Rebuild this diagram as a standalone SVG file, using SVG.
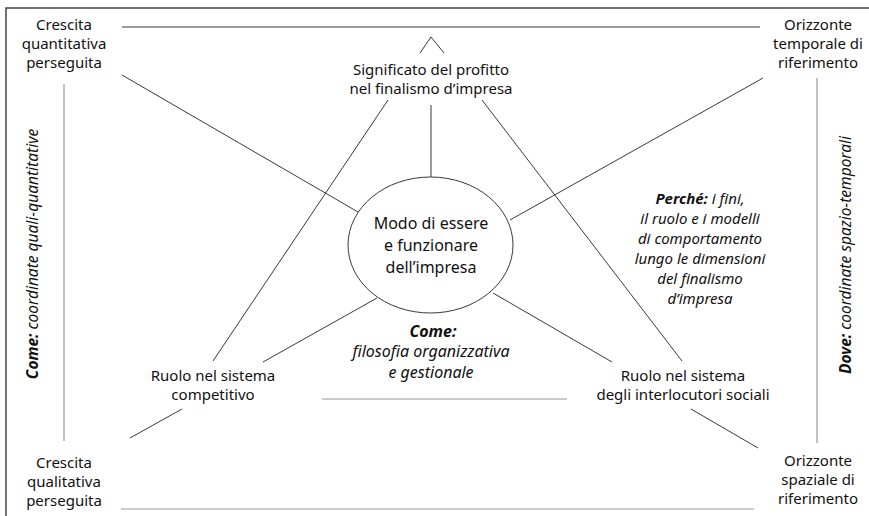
<svg xmlns="http://www.w3.org/2000/svg" width="869" height="516" viewBox="0 0 869 516">
<style>
text{font-family:"Noto Sans","Liberation Sans",sans-serif;font-size:15px;fill:#111;text-anchor:middle}
.it{font-style:italic}
.b{font-weight:bold;font-style:italic}
.big{font-size:16px}
.side{font-size:15.5px}
.ln{stroke:#222;stroke-width:0.9;fill:none}
.gr{stroke:#999;stroke-width:1.2;fill:none}
.lg{stroke:#bbb;stroke-width:1.6;fill:none}
.frame{stroke:#444;stroke-width:1.5;fill:none}
</style>
<rect width="869" height="516" fill="#fff"/>
<path class="frame" d="M6,516 V8 H869"/>

<g id="connectors">
  <line class="ln" x1="122" y1="27" x2="760" y2="27"/>
  <polyline class="ln" points="420,53 431,37 444,53"/>
  <line class="ln" x1="431" y1="105" x2="431" y2="177"/>
  <line class="ln" x1="388" y1="100" x2="213" y2="361"/>
  <line class="ln" x1="482" y1="100" x2="682" y2="361"/>
  <line class="ln" x1="122" y1="75" x2="358" y2="212"/>
  <line class="ln" x1="763" y1="78" x2="510" y2="220"/>
  <line class="ln" x1="377" y1="298" x2="263" y2="362"/>
  <line class="ln" x1="493" y1="293" x2="612" y2="362"/>
  <line class="ln" x1="182" y1="409" x2="130" y2="438"/>
  <line class="ln" x1="691" y1="409" x2="758" y2="448"/>
  <line class="gr" x1="64" y1="84" x2="64" y2="441"/>
  <line class="gr" x1="817" y1="78" x2="817" y2="443"/>
  <line class="gr" x1="121" y1="509" x2="754" y2="509"/>
  <line class="lg" x1="322" y1="399" x2="567" y2="399"/>
</g>

<g id="n-crescita-quantitativa">
  <text x="64" y="30">Crescita</text>
  <text x="64" y="49">quantitativa</text>
  <text x="64" y="68">perseguita</text>
</g>
<g id="n-orizzonte-temporale">
  <text x="818" y="30">Orizzonte</text>
  <text x="818" y="49">temporale di</text>
  <text x="818" y="68">riferimento</text>
</g>
<g id="n-significato">
  <text x="431" y="75">Significato del profitto</text>
  <text x="431" y="94">nel finalismo d’impresa</text>
</g>
<g id="n-modo">
  <ellipse cx="430.5" cy="245" rx="82.5" ry="68" fill="#fff" stroke="#222" stroke-width="0.9"/>
  <text class="big" x="431" y="229">Modo di essere</text>
  <text class="big" x="431" y="251">e funzionare</text>
  <text class="big" x="431" y="273">dell’impresa</text>
</g>
<g id="n-come-centro">
  <text class="b big" x="433" y="337">Come:</text>
  <text class="it big" x="431" y="357">filosofia organizzativa</text>
  <text class="it big" x="431" y="378">e gestionale</text>
</g>
<g id="n-perche">
  <text class="it" x="700" y="204"><tspan class="b">Perché:</tspan> i fini,</text>
  <text class="it" x="700" y="224">il ruolo e i modelli</text>
  <text class="it" x="700" y="244">di comportamento</text>
  <text class="it" x="700" y="264">lungo le dimensioni</text>
  <text class="it" x="700" y="284">del finalismo</text>
  <text class="it" x="700" y="304">d’impresa</text>
</g>
<g id="n-ruolo-competitivo">
  <text x="213" y="381">Ruolo nel sistema</text>
  <text x="213" y="400">competitivo</text>
</g>
<g id="n-ruolo-sociale">
  <text x="683" y="381">Ruolo nel sistema</text>
  <text x="683" y="400">degli interlocutori sociali</text>
</g>
<g id="n-crescita-qualitativa">
  <text x="64" y="468">Crescita</text>
  <text x="64" y="487">qualitativa</text>
  <text x="64" y="506">perseguita</text>
</g>
<g id="n-orizzonte-spaziale">
  <text x="818" y="466">Orizzonte</text>
  <text x="818" y="485">spaziale di</text>
  <text x="818" y="504">riferimento</text>
</g>
<g id="n-come-lato">
  <text class="it side" transform="translate(38,254) rotate(-90)"><tspan class="b">Come:</tspan> coordinate quali-quantitative</text>
</g>
<g id="n-dove-lato">
  <text class="it side" transform="translate(851,255) rotate(-90)"><tspan class="b">Dove:</tspan> coordinate spazio-temporali</text>
</g>
</svg>
